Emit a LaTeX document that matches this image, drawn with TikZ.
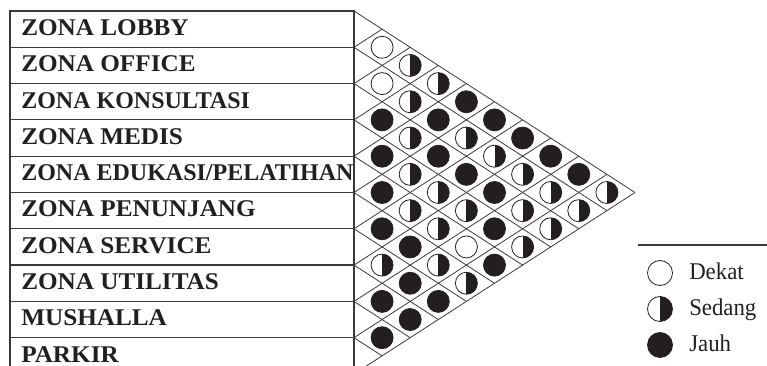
\documentclass[tikz,border=0pt]{standalone}
\usepackage{fontspec}
\usepackage{graphicx}
\setmainfont{Liberation Serif}
\definecolor{ink}{HTML}{231F20}
\definecolor{rule}{HTML}{3A3A3A}
\begin{document}
\begin{tikzpicture}[x=0.75pt,y=-0.75pt,
  rowbox/.style={rectangle, draw=rule, line width=0.9pt, minimum width=258pt, minimum height=27.225pt, inner sep=0pt},
  gridline/.style={draw=rule, line width=0.6pt},
  dot/.style={circle, draw=ink, line width=0.6pt, minimum size=16.5pt, inner sep=0pt, fill=white},
  dotO/.style={dot},
  dotH/.style={dot, path picture={\fill[ink] (path picture bounding box.north) rectangle (path picture bounding box.south east);}},
  dotF/.style={dot, fill=ink},
  legdot/.style={minimum size=18.75pt},
  rowlabel/.style={anchor=base west, font=\fontsize{18}{20}\selectfont\bfseries, inner sep=0pt, text=ink},
  leglabel/.style={anchor=base west, font=\fontsize{18}{20}\selectfont, inner sep=0pt, text=ink}]
\useasboundingbox (0,0) rectangle (767,366);
\clip (0,0) rectangle (767,366);
% table rows
\foreach \lab/\sx [count=\k from 0] in {{ZONA LOBBY}/1.05, {ZONA OFFICE}/1.05, {ZONA KONSULTASI}/1.0, {ZONA MEDIS}/1.05, {ZONA EDUKASI/PELATIHAN}/1.0, {ZONA PENUNJANG}/1.05, {ZONA SERVICE}/1.05, {ZONA UTILITAS}/1.05, {MUSHALLA}/1.05, {PARKIR}/1.05}{
  \node[rowbox] (row\k) at (182, {11+36.3*\k+18.15}) {};
  \node[rowlabel] (lab\k) at (21, {11+36.3*\k+24.5}) {\scalebox{\sx}[1]{\lab}};
}
% diagonal grid
\foreach \k in {0,...,10}{
  \coordinate (b\k) at (354, {11+36.3*\k});
  \coordinate (d\k) at ({354+28.1*(10-\k)}, {11+36.3*\k+18.15*(10-\k)});
  \coordinate (u\k) at ({354+28.1*\k}, {11+36.3*\k-18.15*\k});
  \draw[gridline] (b\k) -- (d\k);
  \draw[gridline] (b\k) -- (u\k);
}
% relationship symbols
\foreach \i/\j/\t in {
  0/1/O, 1/2/O, 2/3/F, 3/4/F, 4/5/F, 5/6/F, 6/7/H, 7/8/F, 8/9/F,
  0/2/H, 1/3/H, 2/4/H, 3/5/H, 4/6/H, 5/7/F, 6/8/F, 7/9/F,
  0/3/H, 1/4/F, 2/5/F, 3/6/H, 4/7/H, 5/8/H, 6/9/F,
  0/4/F, 1/5/H, 2/6/F, 3/7/H, 4/8/O, 5/9/H,
  0/5/F, 1/6/H, 2/7/F, 3/8/F, 4/9/F,
  0/6/F, 1/7/H, 2/8/H, 3/9/H,
  0/7/F, 1/8/H, 2/9/H,
  0/8/F, 1/9/H,
  0/9/H}{
  \node[dot\t] (c\i-\j) at ({354+28.1*(\j-\i)}, {11+18.15*(\i+\j+1)}) {};
}
% legend
\coordinate (lgA) at (638,245);
\coordinate (lgB) at (767,245);
\draw[rule, line width=0.9pt] (lgA) -- (lgB);
\node[dotO, legdot] (lg1) at (660,273) {};
\node[dotH, legdot] (lg2) at (660,309) {};
\node[dotF, legdot] (lg3) at (660,345) {};
\node[leglabel] (lt1) at (689,280) {\scalebox{0.95}[1]{Dekat}};
\node[leglabel] (lt2) at (689,316) {\scalebox{0.95}[1]{Sedang}};
\node[leglabel] (lt3) at (689,352) {\scalebox{0.95}[1]{Jauh}};
\end{tikzpicture}
\end{document}
